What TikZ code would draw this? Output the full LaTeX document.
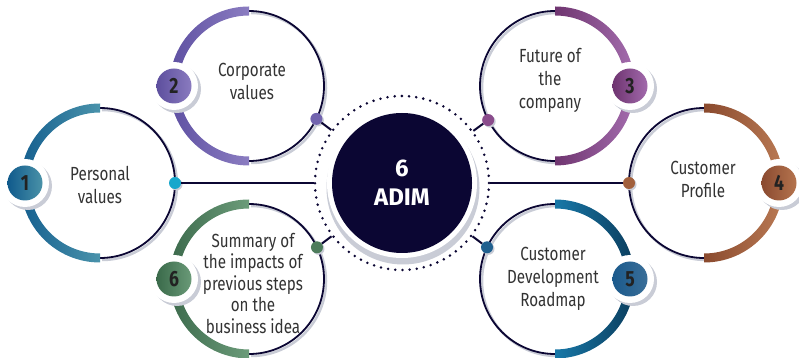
\documentclass[tikz,border=0pt]{standalone}
\usepackage{fontspec}
\usepackage{xcolor}
\usepackage{tikz}
\usetikzlibrary{calc,positioning}

\newfontfamily\stepfont{Fira Sans}[FakeStretch=0.8]
\newfontfamily\hubfont{Fira Sans}

\definecolor{navy}{HTML}{0B0633}
\definecolor{shadowgray}{HTML}{C9CCD6}
\definecolor{labeltext}{HTML}{333333}
\definecolor{numtext}{HTML}{222222}
\definecolor{arcL1}{HTML}{155F8F}\definecolor{arcR1}{HTML}{4A93AB}\definecolor{dot1}{HTML}{17A7CC}
\definecolor{arcL2}{HTML}{5E50A2}\definecolor{arcR2}{HTML}{8B7DC1}\definecolor{dot2}{HTML}{7264AF}
\definecolor{arcL3}{HTML}{6F3570}\definecolor{arcR3}{HTML}{A46DAE}\definecolor{dot3}{HTML}{8A4C8C}
\definecolor{arcL4}{HTML}{8A4A2E}\definecolor{arcR4}{HTML}{BA7A54}\definecolor{dot4}{HTML}{A2603C}
\definecolor{arcL5}{HTML}{1878A8}\definecolor{arcR5}{HTML}{0B3D5D}\definecolor{dot5}{HTML}{20608F}
\definecolor{arcL6}{HTML}{3C6A4C}\definecolor{arcR6}{HTML}{6C9C7A}\definecolor{dot6}{HTML}{4D7C5B}
\definecolor{badgeL1}{HTML}{105A8C}\definecolor{badgeR1}{HTML}{4A92A8}
\definecolor{badgeL2}{HTML}{5D4F9E}\definecolor{badgeR2}{HTML}{8A7BBF}
\definecolor{badgeL3}{HTML}{6E3470}\definecolor{badgeR3}{HTML}{A26AAC}
\definecolor{badgeL4}{HTML}{8A4A30}\definecolor{badgeR4}{HTML}{B5744E}
\definecolor{badgeL5}{HTML}{1B5A8C}\definecolor{badgeR5}{HTML}{3A6E98}
\definecolor{badgeL6}{HTML}{3A6A4A}\definecolor{badgeR6}{HTML}{6A9A78}

\begin{document}
\begin{tikzpicture}[x=1pt,y=1pt,
  ringline/.style={draw=navy, line width=1.8pt},
  shadowline/.style={draw=shadowgray, line width=2.5pt},
  badge/.style={circle, minimum size=35pt, inner sep=0pt, text=numtext,
    font=\stepfont\bfseries\fontsize{22}{22}\selectfont},
  dotnode/.style={circle, minimum size=12pt, inner sep=0pt},
  link/.style={draw=navy, line width=2pt},
  steptext/.style={align=center, text=labeltext, font=\stepfont\fontsize{19}{23}\selectfont}]

  \useasboundingbox (0,0) rectangle (799,358);

  % centre
  \fill[shadowgray] (403,170) circle (76.5);
  \fill[white] (402,175) circle (75);
  \node[circle, fill=navy, minimum size=140pt, inner sep=0pt] (hub) at (402,175) {};
  \node[align=center, text=white, font=\hubfont\bfseries\fontsize{24}{29}\selectfont] (hubtext) at (hub) {6\\ADIM};
  \node[circle, minimum size=174pt, inner sep=0pt, draw=navy, line width=2.8pt,
    dash pattern=on 0pt off 7.2pt, line cap=round] (ring) at (hub) {};

  % the six steps
  \foreach \n/\cx/\cy/\side/\dang in {1/100/175/180/0, 2/249/272/180/-26, 3/555/272/0/207,
      4/704/175/0/180, 5/555/79/0/155, 6/249/79/180/25}{
    \coordinate (c\n) at (\cx,\cy);
    \draw[shadowline] ([shift={(2,-2)}]c\n) ++({\side+90}:75) arc[start angle=\side+90, delta angle=180, radius=75];
    \draw[ringline] (c\n) ++({\side+90}:75) arc[start angle=\side+90, delta angle=180, radius=75];
    \shade[left color=arcL\n, right color=arcR\n] (c\n) ++({\side-90}:79.5)
      arc[start angle=\side-90, delta angle=180, radius=79.5] -- ++({\side+90}:-9)
      arc[start angle=\side+90, delta angle=-180, radius=70.5] -- cycle;
    \fill[shadowgray] ($(c\n)+(\side:75)+(3,-3)$) circle (24);
    \fill[white] ($(c\n)+(\side:75)$) circle (24);
    \node[badge, left color=badgeL\n, right color=badgeR\n] (b\n) at ($(c\n)+(\side:75)$) {\n};
    \fill[shadowgray] ($(c\n)+(\dang:75)+(1.5,-1.5)$) circle (6);
    \node[dotnode, fill=dot\n] (d\n) at ($(c\n)+(\dang:75)$) {};
    \draw[link] (d\n) -- (ring);
  }

  \node[steptext] (t1) at (100,173) {Personal\\values};
  \node[steptext] (t2) at (252,277) {Corporate\\values};
  \node[steptext] (t3) at (550,278) {Future of\\the\\company};
  \node[steptext] (t4) at (703,179) {Customer\\Profile};
  \node[steptext] (t5) at (553,79) {Customer\\Development\\Roadmap};
  \node[steptext, font=\stepfont\fontsize{19}{21.5}\selectfont] (t6) at (253,75)
    {Summary of\\the impacts of\\previous steps\\on the\\business idea};

\end{tikzpicture}
\end{document}
